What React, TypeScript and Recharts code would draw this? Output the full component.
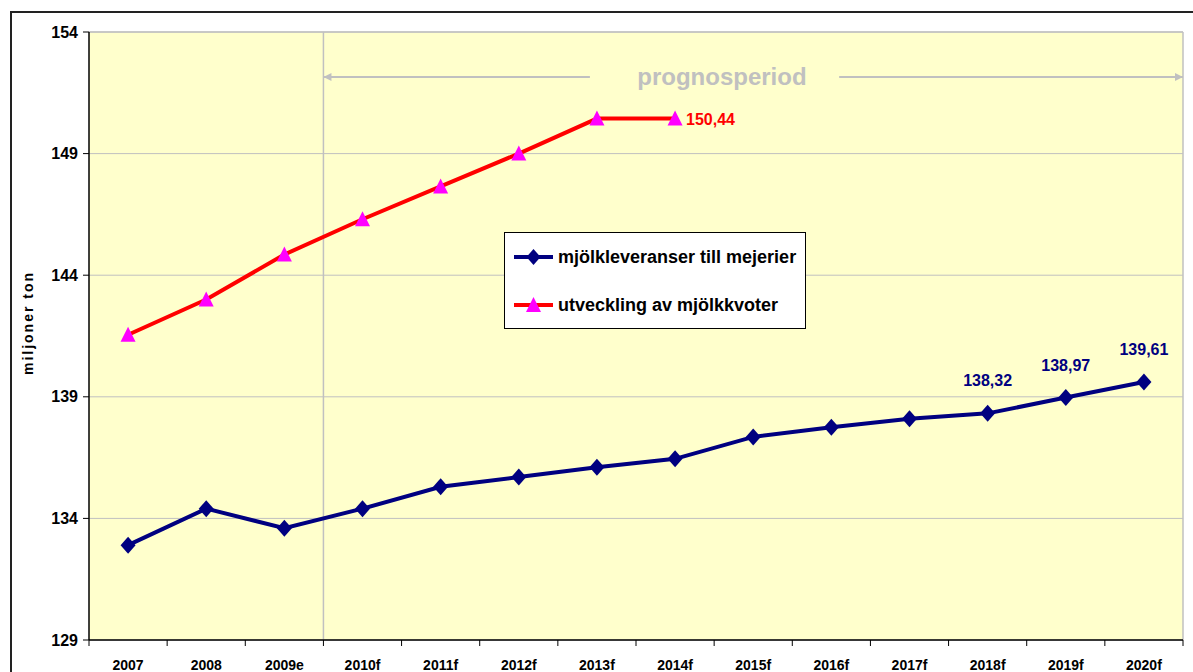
import React from "react";
import {
  LineChart,
  Line,
  XAxis,
  YAxis,
  CartesianGrid,
  ReferenceLine,
  ReferenceDot,
  LabelList,
} from "recharts";

const categories = [
  "2007", "2008", "2009e", "2010f", "2011f", "2012f", "2013f",
  "2014f", "2015f", "2016f", "2017f", "2018f", "2019f", "2020f",
];
const leveranser = [
  132.9, 134.4, 133.6, 134.4, 135.3, 135.7, 136.1,
  136.45, 137.35, 137.75, 138.1, 138.32, 138.97, 139.61,
];
const kvoter = [141.55, 143.0, 144.85, 146.3, 147.65, 149.0, 150.44, 150.44];
const yTicks = [129, 134, 139, 144, 149, 154];
const labeledBlue = ["2018f", "2019f", "2020f"];
const labeledRed = ["2014f"];

const SERIES_BLUE = "mjölkleveranser till mejerier";
const SERIES_RED = "utveckling av mjölkkvoter";
const Y_TITLE = "miljoner ton";

const NAVY = "#000080";
const RED = "#FF0000";
const MAGENTA = "#FF00FF";
const GREY = "#C0C0C0";
const FONT = "'Liberation Sans', Arial, sans-serif";

const data = categories.map((c, i) => ({
  idx: i,
  cat: c,
  lev: leveranser[i],
  kvot: i < kvoter.length ? kvoter[i] : null,
}));

// ticks: heltal = etikett, halva = streck mellan kategorierna
const xTicks: number[] = [-0.5];
categories.forEach((_, i) => xTicks.push(i, i + 0.5));

// prognos-pil (i dataenheter)
const PROGNOS_START = 2.5;
const PROGNOS_END = 13.5;
const ARROW_Y = 152.15;
const GAP_LEFT = 5.91;
const GAP_RIGHT = 9.1;
const TEXT_X = 7.6;

const fmt = (v: number) => v.toFixed(2).replace(".", ",");

const XTick = (props: any) => {
  const { x, y, payload } = props;
  const v = payload.value;
  if (Number.isInteger(v)) {
    return (
      <text x={x} y={y + 30} textAnchor="middle" fontSize={14} fontWeight={700} fill="#000" fontFamily={FONT}>
        {categories[v]}
      </text>
    );
  }
  return <line x1={x} x2={x} y1={y} y2={y + 6} stroke="#000" strokeWidth={1} />;
};

const Diamond = (props: any) => {
  const { cx, cy, index } = props;
  if (cx == null || cy == null) return <g key={`d${index}`} />;
  return (
    <path
      key={`d${index}`}
      d={`M${cx},${cy - 8.5} L${cx + 7.5},${cy} L${cx},${cy + 8.5} L${cx - 7.5},${cy} Z`}
      fill={NAVY}
    />
  );
};

const Triangle = (props: any) => {
  const { cx, cy, index } = props;
  if (cx == null || cy == null) return <g key={`t${index}`} />;
  return (
    <path
      key={`t${index}`}
      d={`M${cx},${cy - 8} L${cx + 7.5},${cy + 7} L${cx - 7.5},${cy + 7} Z`}
      fill={MAGENTA}
    />
  );
};

const BlueLabel = (props: any) => {
  const { x, y, value, index } = props;
  if (!labeledBlue.includes(categories[index])) return null;
  return (
    <text x={x} y={y - 27} textAnchor="middle" fontSize={16} fontWeight={700} fill={NAVY} fontFamily={FONT}>
      {fmt(value)}
    </text>
  );
};

const RedLabel = (props: any) => {
  const { x, y, value, index } = props;
  if (!labeledRed.includes(categories[index])) return null;
  return (
    <text x={x + 11} y={y + 6} textAnchor="start" fontSize={16} fontWeight={700} fill={RED} fontFamily={FONT}>
      {fmt(value)}
    </text>
  );
};

const YTitle = (props: any) => {
  const vb = props.viewBox || {};
  const cx = vb.x - 11;
  const cy = vb.y + vb.height / 2 - 13;
  return (
    <text
      x={cx}
      y={cy}
      transform={`rotate(-90 ${cx} ${cy})`}
      textAnchor="middle"
      dominantBaseline="central"
      fontSize={14}
      fontWeight={700}
      letterSpacing={2}
      fill="#000"
      fontFamily={FONT}
    >
      {Y_TITLE}
    </text>
  );
};

const ArrowHead = (dir: number) => (p: any) => (
  <path
    d={`M${p.cx},${p.cy} L${p.cx - dir * 8},${p.cy - 4} L${p.cx - dir * 8},${p.cy + 4} Z`}
    fill={GREY}
  />
);

const PrognosText = (p: any) => (
  <text
    x={p.cx}
    y={p.cy + 8}
    textAnchor="middle"
    fontSize={24}
    fontWeight={700}
    fill={GREY}
    fontFamily={FONT}
  >
    prognosperiod
  </text>
);

function LegendBox() {
  const row = (label: string, color: string, marker: React.ReactNode) => (
    <div style={{ display: "flex", alignItems: "center", height: 48 }}>
      <svg width={42} height={20} style={{ marginRight: 3 }}>
        <line x1={1} x2={40} y1={10} y2={10} stroke={color} strokeWidth={4} />
        {marker}
      </svg>
      <span style={{ fontSize: 18, fontWeight: 700, color: "#000" }}>{label}</span>
    </div>
  );
  return (
    <div
      style={{
        position: "absolute",
        left: 504,
        top: 232,
        width: 302,
        height: 97,
        boxSizing: "border-box",
        border: "1px solid #000",
        background: "#fff",
        paddingLeft: 8,
        fontFamily: FONT,
      }}
    >
      {row(SERIES_BLUE, NAVY, <path d="M20.5,2 L27.5,10 L20.5,18 L13.5,10 Z" fill={NAVY} />)}
      {row(SERIES_RED, RED, <path d="M20.5,2 L28,17 L13,17 Z" fill={MAGENTA} />)}
    </div>
  );
}

export default function App() {
  return (
    <div
      style={{
        position: "absolute",
        left: 0,
        top: 0,
        width: 1193,
        height: 672,
        background: "#fff",
        overflow: "hidden",
        fontFamily: FONT,
      }}
    >
      <div
        style={{
          position: "absolute",
          left: 10,
          top: 11,
          width: 1300,
          height: 800,
          borderTop: "2px solid #222",
          borderLeft: "2px solid #222",
        }}
      />
      <div style={{ position: "absolute", left: 0, top: 0 }}>
        <LineChart width={1193} height={672} data={data} margin={{ top: 32, right: 10, bottom: 2, left: 39 }}>
          <CartesianGrid vertical={false} stroke={GREY} fill="#FFFFCC" fillOpacity={1} />
          <XAxis
            dataKey="idx"
            type="number"
            domain={[-0.5, 13.5]}
            ticks={xTicks}
            interval={0}
            tickSize={0}
            tickMargin={0}
            tick={<XTick />}
            axisLine={{ stroke: "#000", strokeWidth: 1.5 }}
            height={30}
          />
          <YAxis
            type="number"
            domain={[129, 154]}
            ticks={yTicks}
            interval={0}
            width={50}
            tickSize={6}
            tickMargin={5}
            tickLine={{ stroke: "#000" }}
            axisLine={{ stroke: "#000", strokeWidth: 1.5 }}
            tick={{ fontSize: 16, fontWeight: 700, fill: "#000", fontFamily: FONT }}
            label={{ value: Y_TITLE, content: YTitle }}
          />
          <ReferenceLine y={154} stroke={GREY} strokeWidth={1.5} />
          <ReferenceLine x={PROGNOS_END} stroke={GREY} strokeWidth={1.5} />
          <ReferenceLine x={PROGNOS_START} stroke={GREY} strokeWidth={1.5} />
          <ReferenceLine
            segment={[{ x: PROGNOS_START, y: ARROW_Y }, { x: GAP_LEFT, y: ARROW_Y }]}
            stroke={GREY}
            strokeWidth={2}
          />
          <ReferenceLine
            segment={[{ x: GAP_RIGHT, y: ARROW_Y }, { x: PROGNOS_END, y: ARROW_Y }]}
            stroke={GREY}
            strokeWidth={2}
          />
          <ReferenceDot x={PROGNOS_START} y={ARROW_Y} r={0} shape={ArrowHead(-1)} />
          <ReferenceDot x={PROGNOS_END} y={ARROW_Y} r={0} shape={ArrowHead(1)} />
          <ReferenceDot x={TEXT_X} y={ARROW_Y} r={0} shape={PrognosText} />
          <Line
            dataKey="kvot"
            name={SERIES_RED}
            stroke={RED}
            strokeWidth={4}
            dot={Triangle}
            activeDot={false}
            isAnimationActive={false}
          >
            <LabelList dataKey="kvot" content={RedLabel} />
          </Line>
          <Line
            dataKey="lev"
            name={SERIES_BLUE}
            stroke={NAVY}
            strokeWidth={4}
            dot={Diamond}
            activeDot={false}
            isAnimationActive={false}
          >
            <LabelList dataKey="lev" content={BlueLabel} />
          </Line>
        </LineChart>
      </div>
      <LegendBox />
    </div>
  );
}
